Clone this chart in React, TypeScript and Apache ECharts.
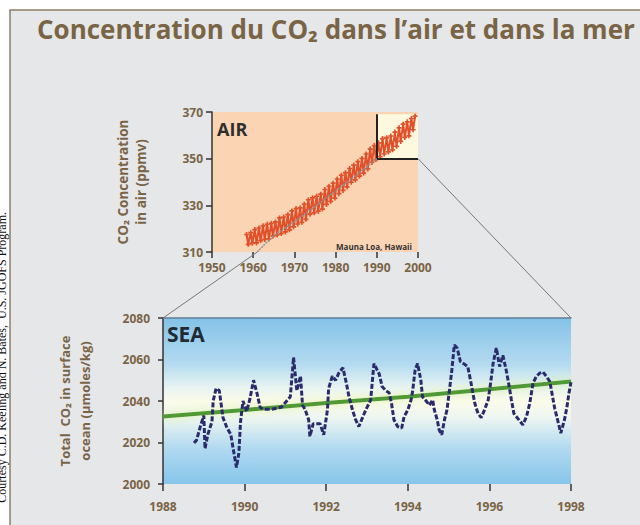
import { useEffect, useRef } from "react";
import * as echarts from "echarts";

const titleText = "Concentration du CO₂ dans l’air et dans la mer";
const creditText = "Courtesy C.D. Keeling and N. Bates,  U.S. JGOFS Program.";
const airLabel = "AIR";
const seaLabel = "SEA";
const stationLabel = "Mauna Loa, Hawaii";
const airAxisName = "CO₂ Concentration\nin air (ppmv)";
const seaAxisName = "Total  CO₂ in surface\nocean (µmoles/kg)";

// Air (ppmv): spring peak / autumn trough for each year
const airYears = [
  1958.4, 1958.8, 1959.4, 1959.8, 1960.4, 1960.8, 1961.4, 1961.8, 1962.4, 1962.8,
  1963.4, 1963.8, 1964.4, 1964.8, 1965.4, 1965.8, 1966.4, 1966.8, 1967.4, 1967.8,
  1968.4, 1968.8, 1969.4, 1969.8, 1970.4, 1970.8, 1971.4, 1971.8, 1972.4, 1972.8,
  1973.4, 1973.8, 1974.4, 1974.8, 1975.4, 1975.8, 1976.4, 1976.8, 1977.4, 1977.8,
  1978.4, 1978.8, 1979.4, 1979.8, 1980.4, 1980.8, 1981.4, 1981.8, 1982.4, 1982.8,
  1983.4, 1983.8, 1984.4, 1984.8, 1985.4, 1985.8, 1986.4, 1986.8, 1987.4, 1987.8,
  1988.4, 1988.8, 1989.4, 1989.8, 1990.4, 1990.8, 1991.4, 1991.8, 1992.4, 1992.8,
  1993.4, 1993.8, 1994.4, 1994.8, 1995.4, 1995.8, 1996.4, 1996.8, 1997.4, 1997.8,
  1998.4, 1998.8, 1999.3,
];
const airPpm = [
  317.5, 313.3, 318.3, 313.8, 319.6, 313.9, 320.3, 314.9, 321.2, 315.4,
  321.9, 315.6, 322.3, 316.8, 322.9, 317.3, 324.6, 317.9, 325.0, 318.6,
  326.0, 319.5, 327.6, 320.8, 328.6, 322.0, 328.9, 322.7, 330.5, 324.0,
  332.4, 326.2, 333.2, 326.8, 333.9, 327.5, 334.8, 328.4, 336.8, 330.4,
  338.1, 331.7, 339.5, 333.1, 341.3, 335.0, 342.9, 336.4, 344.0, 337.9,
  345.8, 339.9, 347.2, 340.9, 348.7, 342.5, 350.1, 343.8, 352.0, 345.6,
  354.1, 348.4, 355.6, 349.6, 356.8, 350.9, 358.6, 352.0, 359.0, 352.9,
  359.7, 353.8, 361.4, 355.3, 363.2, 357.4, 364.8, 359.1, 365.8, 359.8,
  367.2, 362.4, 368.2,
];
const airFitYears = [1961, 1965, 1970, 1975, 1980, 1985, 1990];
const airFitPpm = [310, 316.8, 323, 329.5, 336.2, 343, 350];

// Sea (µmol/kg)
const seaYears = [
  1988.76, 1988.82, 1988.92, 1989.0, 1989.03, 1989.1, 1989.2, 1989.23, 1989.3, 1989.38,
  1989.47, 1989.57, 1989.66, 1989.72, 1989.8, 1989.86, 1989.9, 1989.96, 1990.05, 1990.13,
  1990.22, 1990.3, 1990.38, 1990.46, 1990.65, 1990.9, 1991.12, 1991.2, 1991.28, 1991.37,
  1991.42, 1991.48, 1991.57, 1991.6, 1991.68, 1991.85, 1991.94, 1992.03, 1992.06, 1992.15,
  1992.23, 1992.31, 1992.41, 1992.49, 1992.56, 1992.64, 1992.72, 1992.8, 1992.89, 1992.97,
  1993.09, 1993.17, 1993.3, 1993.37, 1993.46, 1993.54, 1993.6, 1993.66, 1993.75, 1993.85,
  1993.91, 1994.0, 1994.08, 1994.12, 1994.18, 1994.24, 1994.32, 1994.36, 1994.45, 1994.53,
  1994.61, 1994.65, 1994.72, 1994.77, 1994.83, 1994.9, 1994.96, 1995.02, 1995.08, 1995.14,
  1995.21, 1995.29, 1995.37, 1995.47, 1995.55, 1995.64, 1995.72, 1995.8, 1995.88, 1995.97,
  1996.03, 1996.09, 1996.17, 1996.25, 1996.33, 1996.41, 1996.47, 1996.54, 1996.6, 1996.68,
  1996.76, 1996.82, 1996.91, 1996.99, 1997.07, 1997.15, 1997.23, 1997.31, 1997.4, 1997.48,
  1997.54, 1997.6, 1997.67, 1997.75, 1997.84, 1997.9, 1997.95, 1998.0,
];
const seaDic = [
  2019.8, 2021, 2028, 2033, 2017, 2024, 2030, 2040, 2046, 2045,
  2032, 2027, 2024, 2017, 2008, 2015, 2030, 2040, 2035, 2041,
  2050, 2044, 2037, 2036, 2036, 2037, 2042, 2061, 2045, 2052,
  2038, 2036, 2031, 2023, 2029, 2029, 2023.7, 2035.7, 2046, 2052,
  2050, 2053.5, 2056, 2049, 2042, 2036, 2031, 2027.7, 2032, 2035.7,
  2040.5, 2058, 2053, 2047, 2045, 2044, 2039, 2031, 2027.7, 2027,
  2032.5, 2035.7, 2040.5, 2045, 2055, 2058, 2050, 2042, 2040, 2038,
  2040.5, 2035.7, 2031, 2026, 2023.7, 2031, 2035.7, 2045, 2055, 2067,
  2065.5, 2059, 2058, 2056.6, 2048.7, 2039, 2034, 2032, 2035.7, 2040.5,
  2048.7, 2058, 2065.5, 2056.6, 2062, 2055, 2048.7, 2040.5, 2034, 2032,
  2030, 2028.5, 2032.5, 2039, 2048.7, 2051.8, 2053.4, 2054, 2051.8, 2049.4,
  2043, 2036.5, 2031, 2024.5, 2031, 2037, 2043.8, 2049,
];
const seaTrendYears = [1988, 1990, 1992, 1994, 1996, 1998];
const seaTrendDic = [2032.5, 2035.7, 2039, 2042, 2045.7, 2049.4];

const zip = (xs: number[], ys: number[]) => xs.map((x, i) => [x, ys[i]]);

const BROWN = "#7a6446";
const FONT = "'Open Sans', 'Noto Sans', sans-serif";
const CROSS = "path://M2,0H4V2H6V4H4V6H2V4H0V2H2Z";
const plain = (v: number) => String(v);

export default function App() {
  const ref = useRef<HTMLDivElement>(null);
  useEffect(() => {
    if (!ref.current) return;
    const chart = echarts.init(ref.current, undefined, { renderer: "svg" });
    const tickLabel = { color: BROWN, fontWeight: "bold" as const, fontSize: 12, fontFamily: FONT, formatter: plain };
    const option: any = {
      animation: false,
      backgroundColor: "#ffffff",
      title: {
        text: titleText,
        left: 32,
        top: 11,
        textStyle: { color: BROWN, fontSize: 26, fontWeight: "bold", fontFamily: FONT },
      },
      grid: [
        { left: 212, top: 112, width: 206, height: 140, show: true, backgroundColor: "#fbd5b3", borderWidth: 0 },
        {
          left: 163,
          top: 318,
          width: 408,
          height: 166,
          show: true,
          borderWidth: 0,
          backgroundColor: {
            type: "linear",
            x: 0,
            y: 0,
            x2: 0,
            y2: 1,
            colorStops: [
              { offset: 0, color: "#84c2e8" },
              { offset: 0.28, color: "#b4dbf0" },
              { offset: 0.42, color: "#e8f4f1" },
              { offset: 0.5, color: "#fbfbe9" },
              { offset: 0.6, color: "#eef6f1" },
              { offset: 0.78, color: "#b2daf0" },
              { offset: 1, color: "#86c5ea" },
            ],
          },
        },
      ],
      xAxis: [
        {
          gridIndex: 0,
          type: "value",
          min: 1950,
          max: 2000,
          interval: 10,
          splitLine: { show: false },
          axisLine: { show: false },
          axisTick: { show: true, length: 6, lineStyle: { color: "#333", width: 1.5 } },
          axisLabel: { ...tickLabel, margin: 9 },
        },
        {
          gridIndex: 1,
          type: "value",
          min: 1988,
          max: 1998,
          interval: 2,
          splitLine: { show: false },
          axisLine: { show: false },
          axisTick: { show: true, length: 7, lineStyle: { color: "#333", width: 1.5 } },
          axisLabel: { ...tickLabel, margin: 16 },
        },
        {
          gridIndex: 1,
          type: "value",
          position: "top",
          min: 1988,
          max: 1998,
          splitLine: { show: false },
          axisLine: { show: true, lineStyle: { color: "#5f7f97", width: 1.5 } },
          axisTick: { show: false },
          axisLabel: { show: false },
        },
      ],
      yAxis: [
        {
          gridIndex: 0,
          type: "value",
          min: 310,
          max: 370,
          interval: 20,
          splitLine: { show: false },
          axisLine: { show: true, lineStyle: { color: "#333", width: 1.5 } },
          axisTick: { show: true, length: 6, lineStyle: { color: "#333", width: 1.5 } },
          axisLabel: { ...tickLabel, margin: 9 },
          name: airAxisName,
          nameLocation: "middle",
          nameGap: 62,
          nameTextStyle: { color: BROWN, fontWeight: "bold", fontSize: 13.5, fontFamily: FONT, lineHeight: 18 },
        },
        {
          gridIndex: 1,
          type: "value",
          min: 2000,
          max: 2080,
          interval: 20,
          splitLine: { show: false },
          axisLine: { show: true, lineStyle: { color: "#333", width: 1.5 } },
          axisTick: { show: true, length: 5, lineStyle: { color: "#333", width: 1.5 } },
          axisLabel: { ...tickLabel, margin: 13 },
          name: seaAxisName,
          nameLocation: "middle",
          nameGap: 68,
          nameTextStyle: { color: BROWN, fontWeight: "bold", fontSize: 13, fontFamily: FONT, lineHeight: 20 },
        },
      ],
      series: [
        {
          type: "line",
          xAxisIndex: 0,
          yAxisIndex: 0,
          data: zip(airFitYears, airFitPpm),
          smooth: true,
          symbol: "none",
          lineStyle: { color: "#8b93a3", width: 1.5, type: [2, 1] },
          z: 5,
          silent: true,
        },
        {
          type: "line",
          xAxisIndex: 0,
          yAxisIndex: 0,
          data: zip(airYears, airPpm),
          symbol: CROSS,
          symbolSize: 5,
          itemStyle: { color: "#e0512b" },
          lineStyle: { color: "#e0512b", width: 2 },
          z: 4,
          silent: true,
          markArea: {
            silent: true,
            itemStyle: { color: "#fdf9df" },
            data: [[{ coord: [1990, 350] }, { coord: [2000, 369] }]],
          },
          markLine: {
            silent: true,
            symbol: ["none", "none"],
            label: { show: false },
            lineStyle: { color: "#222", width: 2, type: "solid" },
            data: [
              [{ coord: [1990, 350] }, { coord: [1990, 369] }],
              [{ coord: [1990, 350] }, { coord: [2000, 350] }],
            ],
          },
        },
        {
          type: "line",
          xAxisIndex: 1,
          yAxisIndex: 1,
          data: zip(seaTrendYears, seaTrendDic),
          symbol: "none",
          lineStyle: { color: "#4f9a35", width: 4, shadowColor: "#d9f0a0", shadowBlur: 8 },
          z: 3,
          silent: true,
        },
        {
          type: "line",
          xAxisIndex: 1,
          yAxisIndex: 1,
          data: zip(seaYears, seaDic),
          symbol: "none",
          lineStyle: { color: "#2b2b6c", width: 3, type: [5, 2] },
          z: 4,
          silent: true,
        },
      ],
    };
    chart.setOption(option);

    const a = chart.convertToPixel({ seriesIndex: 3 }, [1988, 2080]) as number[];
    const b = chart.convertToPixel({ seriesIndex: 1 }, [1961, 310]) as number[];
    const c = chart.convertToPixel({ seriesIndex: 1 }, [2000, 350]) as number[];
    const d = chart.convertToPixel({ seriesIndex: 3 }, [1998, 2080]) as number[];

    chart.setOption({
      graphic: [
        {
          type: "rect",
          z: -10,
          silent: true,
          shape: { x: 10, y: 10, width: 640, height: 525 },
          style: { fill: "#e6e7e8", stroke: "#8d7e68", lineWidth: 1.5 },
        },
        {
          type: "text",
          silent: true,
          x: 8,
          y: 212,
          rotation: Math.PI / 2,
          style: {
            text: creditText,
            fill: "#111",
            font: "12px 'Liberation Serif', serif",
            align: "right",
            verticalAlign: "bottom",
          },
        },
        {
          type: "line",
          silent: true,
          z: 5,
          shape: { x1: a[0], y1: a[1], x2: b[0], y2: b[1] },
          style: { stroke: "#777", lineWidth: 1 },
        },
        {
          type: "line",
          silent: true,
          z: 5,
          shape: { x1: c[0], y1: c[1], x2: d[0], y2: d[1] },
          style: { stroke: "#777", lineWidth: 1 },
        },
        {
          type: "text",
          silent: true,
          z: 10,
          x: 217,
          y: 120,
          style: { text: airLabel, fill: "#2e2e2e", font: "bold 18px 'Open Sans', sans-serif" },
        },
        {
          type: "text",
          silent: true,
          z: 10,
          x: 167,
          y: 323,
          style: { text: seaLabel, fill: "#1f2a33", font: "bold 21px 'Open Sans', sans-serif" },
        },
        {
          type: "text",
          silent: true,
          z: 10,
          x: 412,
          y: 246,
          style: {
            text: stationLabel,
            fill: "#333",
            font: "bold 8px 'Open Sans', sans-serif",
            align: "right",
            verticalAlign: "middle",
          },
        },
      ],
    });
    return () => chart.dispose();
  }, []);
  return <div ref={ref} style={{ position: "fixed", left: 0, top: 0, width: 640, height: 525 }} />;
}
